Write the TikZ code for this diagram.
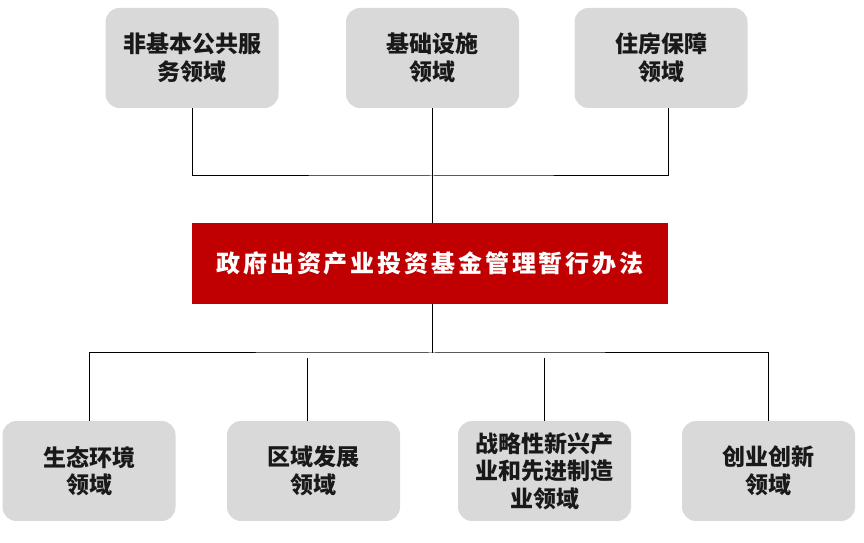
\documentclass[tikz,border=0pt]{standalone}
\usepackage{fontspec}
\newfontfamily\cjk{Noto Sans CJK SC}
\definecolor{boxgray}{HTML}{D9D9D9}
\definecolor{fundred}{HTML}{C00000}
\begin{document}
\begin{tikzpicture}[x=1pt,y=1pt,
    area/.style={fill=boxgray, rounded corners=14pt, minimum width=173pt, minimum height=100pt,
        align=center, text=black!90, font=\cjk\bfseries\fontsize{23}{27.5}\selectfont},
    fund/.style={fill=fundred, minimum width=476pt, minimum height=81pt, text=white,
        font=\cjk\bfseries\fontsize{24}{27}\selectfont\addfontfeature{LetterSpace=12}},
    link/.style={line width=1pt}]
            \useasboundingbox (0,0) rectangle (864,543);

            \node[fund] (f) at (430,279.5) {政府出资产业投资基金管理暂行办法};

            \node[area] (t1) at (192,485) {非基本公共服\\务领域};
            \node[area] (t2) at (432.5,485) {基础设施\\领域};
            \node[area] (t3) at (661,485) {住房保障\\领域};

            \node[area] (b1) at (89,72) {生态环境\\领域};
            \node[area] (b2) at (313.5,72) {区域发展\\领域};
            \node[area] (b3) at (544.5,72) {战略性新兴产\\业和先进制造\\业领域};
            \node[area] (b4) at (768.5,72) {创业创新\\领域};

            \coordinate (jt) at (432,367);
            \coordinate (jb) at (432,190);

            \draw[link] (t1.south) |- (jt) -| ([xshift=7pt]t3.south);
            \draw[link] (t2.south) -- (f.north -| t2.south);
            \draw[link] (f.south -| jb) -- (jb);
            \draw[link] (b1.north) |- (jb) -| (b4.north);
            \draw[link] ([xshift=-6pt]b2.north) -- ++(0,63);
            \draw[link] (b3.north) -- ++(0,63);
        \end{tikzpicture}
\end{document}
